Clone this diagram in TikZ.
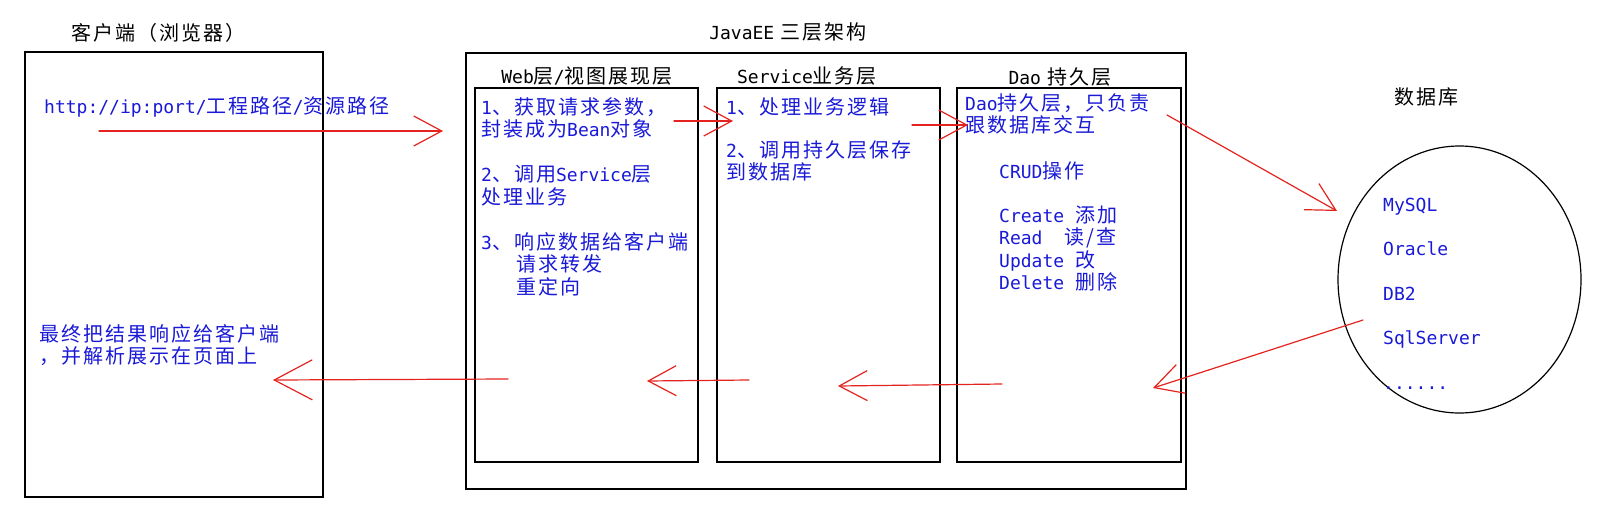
\documentclass[tikz,border=0pt]{standalone}
\usepackage{fontspec}
\setmainfont{Noto Sans CJK SC}[LetterSpace=10]
\newfontfamily\latfont{DejaVu Sans Mono}
\usepackage{tkz-euclide}
\usetikzlibrary{arrows.meta}

\definecolor{txtblue}{RGB}{25,25,215}
\definecolor{flowred}{RGB}{228,35,30}
\newcommand\mono[1]{{\latfont\fontsize{18}{22.5}\selectfont #1}}

\tikzset{
  layer/.style={draw, line width=1.6pt, inner sep=0pt},
  ttl/.style={inner sep=0pt, font=\fontsize{20}{22.5}\selectfont},
  bluetxt/.style={text=txtblue, align=left, inner sep=0pt, anchor=north west,
    font=\fontsize{20}{22.5}\selectfont},
  flow/.style={draw=flowred, line width=1.2pt, -{Straight Barb[length=28pt,width=30pt]}},
}

\begin{document}
\begin{tikzpicture}[x=1pt,y=-1pt]
    \useasboundingbox (0,0) rectangle (1609,525);
    % boxes
    \node[layer, minimum width=298pt, minimum height=445pt] (client) at (174,274.5) {};
    \node[layer, minimum width=720pt, minimum height=436pt] (javaee) at (826,271) {};
    \node[layer, minimum width=223pt, minimum height=374pt] (web) at (586.5,275) {};
    \node[layer, minimum width=223pt, minimum height=374pt] (service) at (828.5,275) {};
    \node[layer, minimum width=224pt, minimum height=374pt] (dao) at (1069,275) {};
    \coordinate (db) at (1459.5,279.5);
    \draw[line width=1.2pt] (db) ellipse [x radius=121.5pt, y radius=133.5pt];
    % titles
    \node[ttl] (clientttl) at (158,33) {客户端（浏览器）};
    \node[ttl] (javaeettl) at (788,32) {\mono{JavaEE} 三层架构};
    \node[ttl] (webttl) at (587,76) {\mono{Web}层\mono{/}视图展现层};
    \node[ttl] (servicettl) at (807,76) {\mono{Service}业务层};
    \node[ttl] (daottl) at (1060,77) {\mono{Dao} 持久层};
    \node[ttl] (dbttl) at (1426,97) {数据库};
    % texts
    \node[bluetxt, anchor=west] (url) at (44,107) {\mono{http://ip:port/}工程路径\mono{/}资源路径};
    \node[bluetxt] (result) at (39,324) {最终把结果响应给客户端\\，并解析展示在页面上};
    \node[bluetxt] (webtxt) at (481,97) {\mono{1}、获取请求参数，\\封装成为\mono{Bean}对象\\[22.5pt]
      \mono{2}、调用\mono{Service}层\\处理业务\\[22.5pt]
      \mono{3}、响应数据给客户端\\\hspace*{35pt}请求转发\\\hspace*{35pt}重定向};
    \node[bluetxt] (servicetxt) at (726,97) {\mono{1}、处理业务逻辑\\[20.5pt]
      \mono{2}、调用持久层保存\\到数据库};
    \node[bluetxt] (daotxt) at (965,93) {\mono{Dao}持久层，只负责\\跟数据库交互};
    \node[bluetxt] (crud) at (999,161) {\mono{CRUD}操作\\[21.5pt]
      \mono{Create }添加\\\mono{Read\ \ }读/查\\\mono{Update }改\\\mono{Delete }删除};
    \node[bluetxt, font=\latfont\fontsize{18}{22.25}\selectfont] (dblist) at (1383,197.5)
      {MySQL\\[22.25pt]Oracle\\[22.25pt]DB2\\[22.25pt]SqlServer\\[22.25pt]......};
    % arrows
    \tkzDefPoints{99/131/a1,443/131/a2,674/121/b1,733/121/b2,912/125/c1,968/125/c2,1167/115/d1,1337/211/d2}
    \tkzDefPoints{1363/320/e1,1153/388/e2,1002/384/f1,838/386/f2,749/380/g1,647/381/g2,508/379/h1,273/380/h2}
    \tkzDrawSegments[flow](a1,a2 b1,b2 c1,c2 d1,d2 e1,e2 f1,f2 g1,g2)
    \tkzDrawSegment[flow,-{Straight Barb[length=38pt,width=40pt]}](h1,h2)
\end{tikzpicture}
\end{document}
